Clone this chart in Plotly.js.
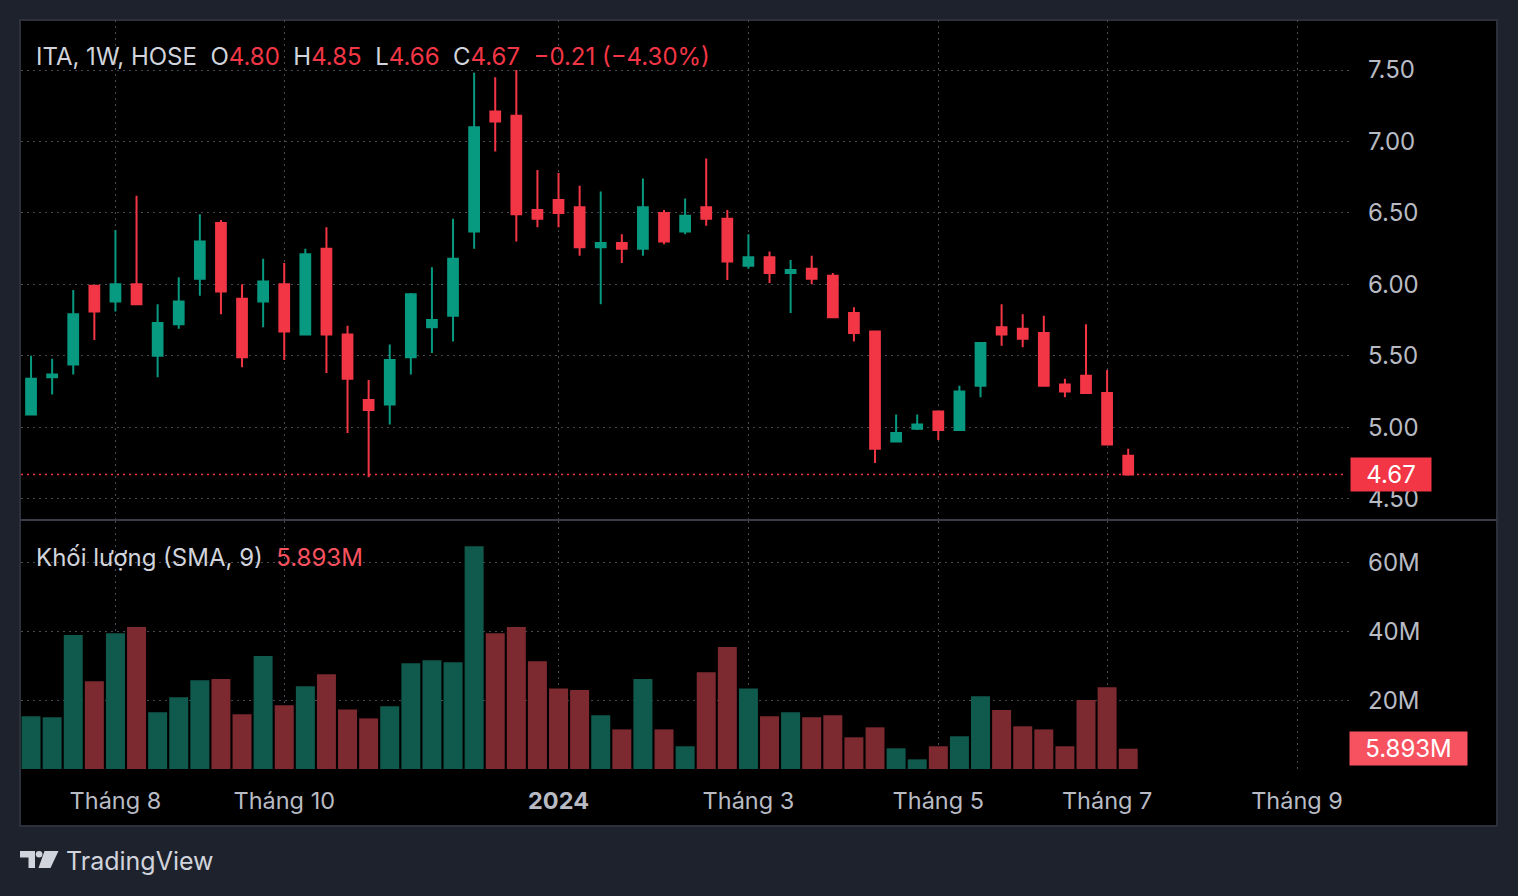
<!DOCTYPE html>
<html><head><meta charset="utf-8">
<script src="https://cdn.plot.ly/plotly-3.0.1.min.js"></script>
<style>html,body{margin:0;padding:0;background:#1e222d;}#chart{width:1518px;height:896px;}</style>
</head><body><div id="chart"></div>
<script>
const dates = ['2023-07-10','2023-07-17','2023-07-24','2023-07-31','2023-08-07','2023-08-14','2023-08-21','2023-08-28',
 '2023-09-04','2023-09-11','2023-09-18','2023-09-25','2023-10-02','2023-10-09','2023-10-16','2023-10-23','2023-10-30',
 '2023-11-06','2023-11-13','2023-11-20','2023-11-27','2023-12-04','2023-12-11','2023-12-18','2023-12-25',
 '2024-01-01','2024-01-08','2024-01-15','2024-01-22','2024-01-29','2024-02-05','2024-02-12','2024-02-19','2024-02-26',
 '2024-03-04','2024-03-11','2024-03-18','2024-03-25','2024-04-01','2024-04-08','2024-04-15','2024-04-22','2024-04-29',
 '2024-05-06','2024-05-13','2024-05-20','2024-05-27','2024-06-03','2024-06-10','2024-06-17','2024-06-24','2024-07-01','2024-07-08'];
const openP  = [5.09,5.35,5.44,5.99,5.88,6.00,5.50,5.72,6.04,6.43,5.90,5.88,6.00,5.65,6.25,5.65,5.19,5.16,5.49,5.70,5.78,6.37,7.21,7.18,6.52,6.59,6.54,6.26,6.29,6.25,6.50,6.37,6.54,6.46,6.13,6.19,6.08,6.11,6.06,5.80,5.67,4.90,4.99,5.11,4.98,5.29,5.70,5.69,5.66,5.30,5.36,5.24,4.80];
const highP  = [5.50,5.48,5.96,5.99,6.38,6.62,5.86,6.05,6.49,6.45,6.00,6.18,6.15,6.25,6.40,5.71,5.33,5.58,5.94,6.12,6.46,7.48,7.45,7.50,6.80,6.78,6.69,6.65,6.35,6.74,6.52,6.60,6.88,6.52,6.35,6.23,6.17,6.20,6.08,5.84,5.67,5.09,5.09,5.11,5.29,5.59,5.86,5.79,5.78,5.34,5.72,5.40,4.85];
const lowP   = [5.09,5.23,5.37,5.61,5.81,5.86,5.35,5.69,5.92,5.79,5.42,5.70,5.47,5.65,5.38,4.96,4.65,5.02,5.37,5.52,5.60,6.25,6.93,6.30,6.40,6.40,6.20,5.86,6.15,6.20,6.28,6.35,6.41,6.03,6.11,6.01,5.80,6.00,5.77,5.60,4.75,4.90,4.98,4.91,4.98,5.21,5.57,5.56,5.29,5.21,5.24,4.88,4.66];
const closeP = [5.34,5.37,5.79,5.81,6.00,5.86,5.73,5.88,6.30,5.95,5.49,6.02,5.67,6.21,5.65,5.34,5.12,5.47,5.93,5.75,6.18,7.10,7.14,6.49,6.46,6.50,6.26,6.29,6.25,6.54,6.30,6.48,6.46,6.16,6.19,6.08,6.10,6.04,5.77,5.66,4.85,4.96,5.02,4.98,5.25,5.59,5.65,5.62,5.29,5.25,5.24,4.88,4.67];
const volumeM = [15.3,15.0,38.9,25.5,39.4,41.2,16.5,20.8,25.8,26.1,15.9,32.8,18.5,24.0,27.5,17.3,14.7,18.2,30.7,31.6,31.0,64.7,39.4,41.2,31.3,23.4,22.9,15.6,11.5,26.1,11.5,6.6,28.1,35.4,23.4,15.3,16.5,15.0,15.6,9.2,12.1,6.0,2.8,6.6,9.5,21.1,17.1,12.4,11.5,6.6,20.0,23.7,5.893];
const symbolText = 'ITA, 1W, HOSE';
const volTitle = 'Khối lượng (SMA, 9)';
const xTickVals = ['2023-08-07','2023-10-02','2024-01-01','2024-03-04','2024-05-06','2024-07-01','2024-09-02'];
const xTickText = ['Tháng 8','Tháng 10','<b>2024</b>','Tháng 3','Tháng 5','Tháng 7','Tháng 9'];
const priceTicks = [4.5,5.0,5.5,6.0,6.5,7.0,7.5];
const volTickVals = [20,40,60];
const volTickText = ['20M','40M','60M'];

const GREEN='#089981', RED='#f23645', VGREEN='#105a4d', VRED='#7c2930', TXT='#d1d4dc', AX='#b8bbc4', GRID='#464a53';
const FONT='Inter, "Noto Sans", sans-serif';
const L=21,R=1350,T=20,B=769;
const px = x => (x-L)/(R-L);
const py = y => (B-y)/(B-T);
const pathOf = pts => 'M' + pts.map(p => px(p[0]) + ',' + py(p[1])).join(' L') + ' Z';

const n = closeP.length;
const volColors = closeP.map((c,i) => c >= openP[i] ? VGREEN : VRED);
const lastO = openP[n-1], lastH = highP[n-1], lastL = lowP[n-1], lastC = closeP[n-1];
const chg = lastC - closeP[n-2];
const pct = chg / closeP[n-2] * 100;
const sgn = v => (v < 0 ? '\u2212' : '+') + Math.abs(v).toFixed(2);
const rs = t => '<span style="color:' + RED + '">' + t + '</span>';
const legendText = symbolText + '  O' + rs(lastO.toFixed(2)) + '  H' + rs(lastH.toFixed(2)) + '  L' + rs(lastL.toFixed(2)) +
  '  C' + rs(lastC.toFixed(2)) + '  ' + rs(sgn(chg) + ' (' + sgn(pct) + '%)');
const lastVolText = volumeM[n-1].toFixed(3) + 'M';

const candle = {
  type:'candlestick', x:dates, open:openP, high:highP, low:lowP, close:closeP,
  xaxis:'x', yaxis:'y', whiskerwidth:0,
  increasing:{line:{color:GREEN,width:2}, fillcolor:GREEN},
  decreasing:{line:{color:RED,width:2}, fillcolor:RED},
  hoverinfo:'skip', showlegend:false
};
const vol = {
  type:'bar', x:dates, y:volumeM, xaxis:'x', yaxis:'y2',
  marker:{color:volColors, line:{width:0}}, hoverinfo:'skip', showlegend:false
};

const layout = {
  width:1518, height:896,
  margin:{l:L, r:1518-R, t:T, b:896-B, pad:0},
  paper_bgcolor:'#1e222d', plot_bgcolor:'rgba(0,0,0,0)',
  font:{family:FONT, color:AX, size:22},
  boxgap:0.34, bargap:0.1,
  showlegend:false,
  xaxis:{type:'date', range:['2023-07-06 16:00','2024-09-19 14:00'], anchor:'y2',
    tickvals:xTickVals, ticktext:xTickText, showgrid:true, gridcolor:GRID, griddash:'2px,4px', gridwidth:1,
    ticks:'', ticklabelstandoff:15, rangeslider:{visible:false}, showline:false, zeroline:false,
    tickfont:{size:23.5, color:AX}, fixedrange:true},
  yaxis:{domain:[py(520),1], range:[4.351,7.850], side:'right', anchor:'x',
    tickvals:priceTicks, tickformat:'.2f', showgrid:true, gridcolor:GRID, griddash:'2px,4px', gridwidth:1,
    ticks:'', ticklabelstandoff:17, showline:false, zeroline:false, tickfont:{size:24, color:AX}, fixedrange:true},
  yaxis2:{domain:[0,py(521)], range:[0,72], side:'right', anchor:'x',
    tickvals:volTickVals, ticktext:volTickText, showgrid:true, gridcolor:GRID, griddash:'2px,4px', gridwidth:1,
    ticks:'', ticklabelstandoff:17, showline:false, zeroline:false, tickfont:{size:24, color:AX}, fixedrange:true},
  shapes:[
    {type:'rect', xref:'paper', yref:'paper', x0:px(20), x1:px(1497), y0:py(826), y1:py(20), layer:'below',
      fillcolor:'#000000', line:{color:'#2c303b', width:2}},
    {type:'line', xref:'paper', yref:'paper', x0:px(20), x1:px(1497), y0:py(520), y1:py(520), layer:'above',
      line:{color:'#393c48', width:2}},
    {type:'line', xref:'paper', yref:'y', x0:0, x1:px(1347), y0:lastC, y1:lastC, layer:'above',
      line:{color:RED, width:1.5, dash:'2px,4px'}},
    {type:'path', xref:'paper', yref:'paper', path:pathOf([[20,851],[35,851],[35,868],[28.5,868],[28.5,857.5],[20,857.5]]),
      fillcolor:TXT, line:{width:0}},
    {type:'circle', xref:'paper', yref:'paper', x0:px(35.8), x1:px(42.4), y0:py(857.6), y1:py(851), fillcolor:TXT, line:{width:0}},
    {type:'path', xref:'paper', yref:'paper', path:pathOf([[44.5,851],[58.5,851],[50.5,868],[38.5,868]]),
      fillcolor:TXT, line:{width:0}}
  ],
  annotations:[
    {xref:'paper', yref:'paper', x:px(34), y:py(56), xanchor:'left', yanchor:'middle', showarrow:false,
      text:legendText, font:{size:24, color:TXT, family:FONT}},
    {xref:'paper', yref:'paper', x:px(34), y:py(557), xanchor:'left', yanchor:'middle', showarrow:false,
      text:volTitle + '  <span style="color:#f7525f">' + lastVolText + '</span>', font:{size:24, color:TXT, family:FONT}},
    {xref:'paper', yref:'y', x:1, y:lastC, xanchor:'left', yanchor:'middle', showarrow:false,
      text:lastC.toFixed(2), width:80, height:33, align:'center', bgcolor:RED, borderpad:0,
      font:{size:24, color:'#ffffff', family:FONT}},
    {xref:'paper', yref:'y2', x:px(1349), y:volumeM[n-1], xanchor:'left', yanchor:'middle', showarrow:false,
      text:lastVolText, width:117, height:33, align:'center', bgcolor:'#f7525f', borderpad:0,
      font:{size:24, color:'#ffffff', family:FONT}},
    {xref:'paper', yref:'paper', x:px(64), y:py(861), xanchor:'left', yanchor:'middle', showarrow:false,
      text:'TradingView', font:{size:25, color:TXT, family:FONT}}
  ]
};

Plotly.newPlot('chart', [vol, candle], layout, {displayModeBar:false, staticPlot:true});
</script></body></html>
